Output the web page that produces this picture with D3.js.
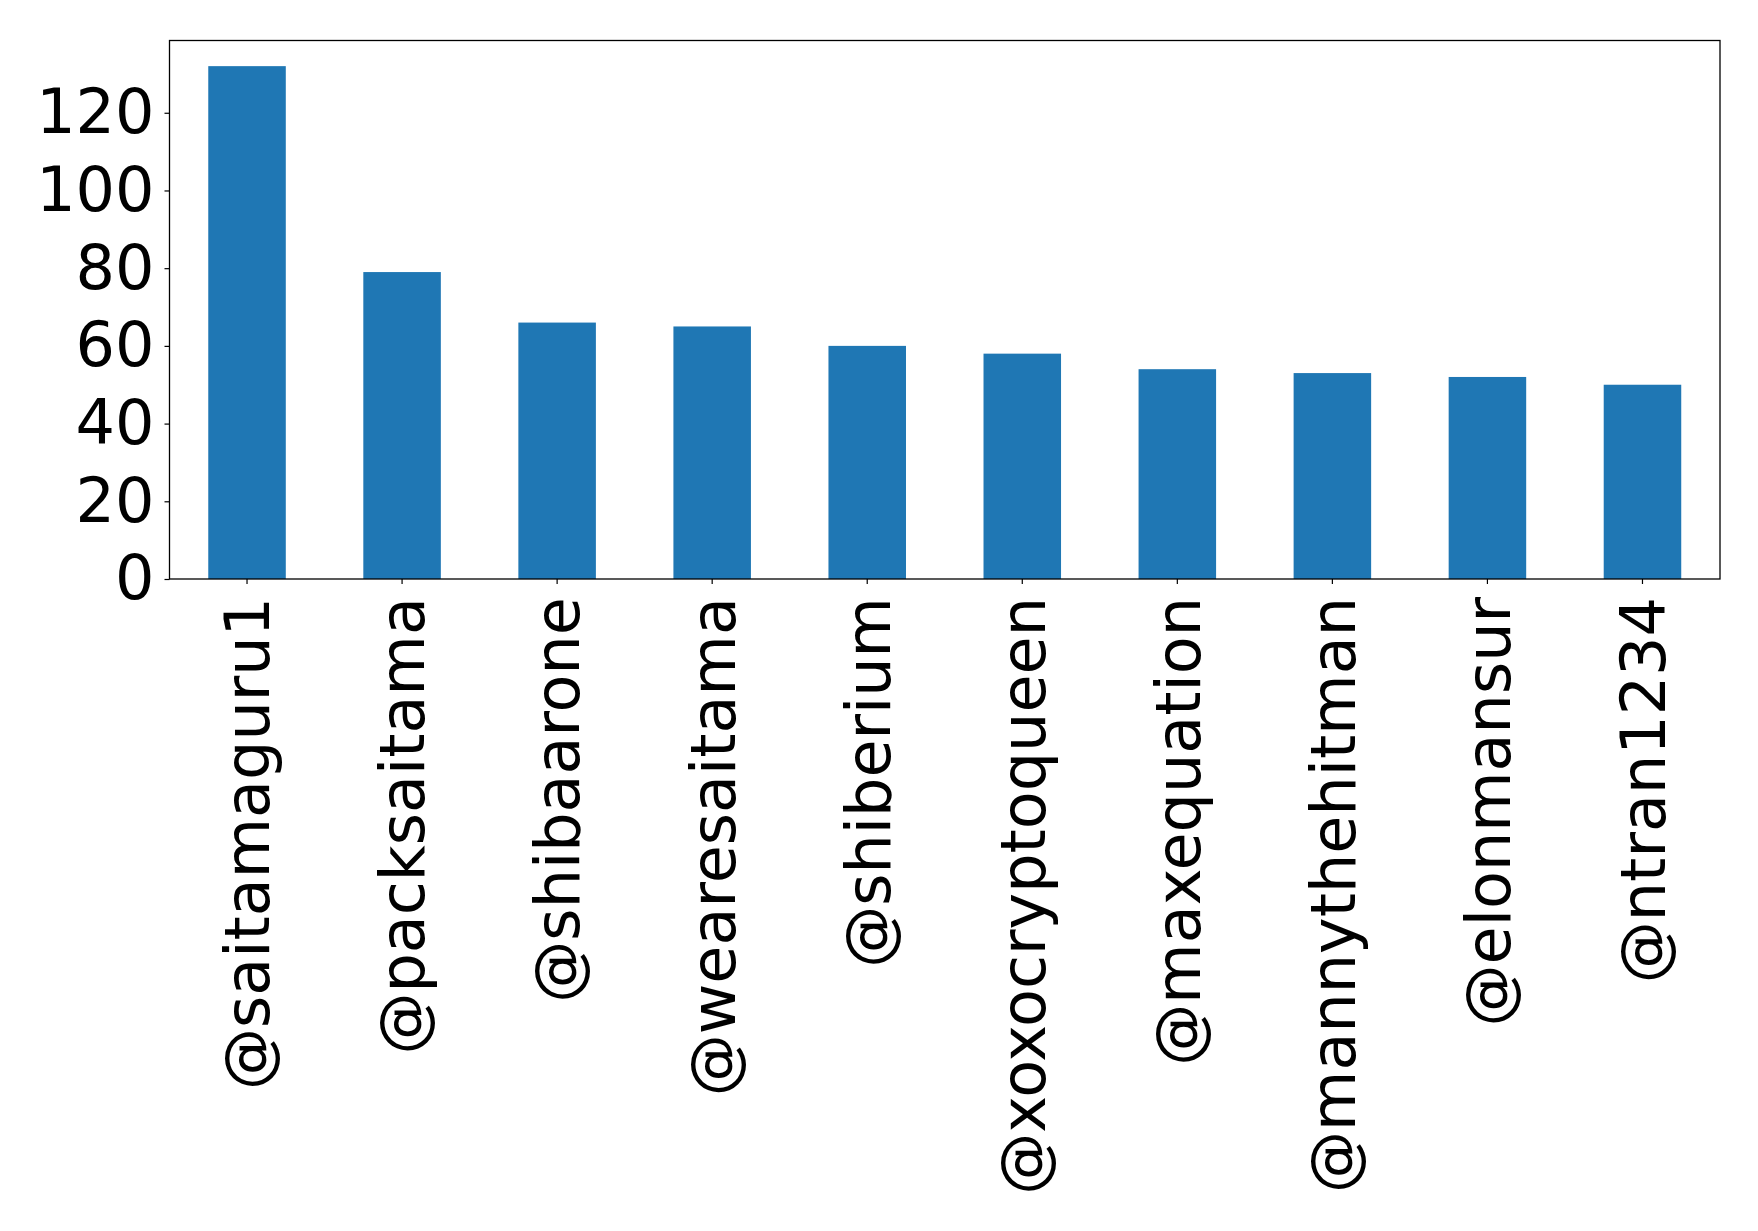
<!DOCTYPE html>
<html>
<head>
<meta charset="utf-8">
<script src="https://cdn.jsdelivr.net/npm/d3@7"></script>
<style>
  body { margin: 0; background: #fff; }
  text { font-family: "DejaVu Sans", sans-serif; }
</style>
</head>
<body>
<div id="chart"></div>
<script>
// counts per account
const accounts = ['@saitamaguru1', '@packsaitama', '@shibaarone', '@wearesaitama', '@shiberium',
    '@xoxocryptoqueen', '@maxequation', '@mannythehitman', '@elonmansur', '@ntran1234'];
const counts = [132, 79, 66, 65, 60, 58, 54, 53, 52, 50];
const yTicks = [0, 20, 40, 60, 80, 100, 120];

const width = 1758;
const height = 1231;
const margin = { top: 40.5, right: 38, bottom: 652, left: 169.5 };
const fontSize = 62;

const svg = d3.select('#chart')
    .append('svg')
    .attr('width', width)
    .attr('height', height);

const x = d3.scaleBand()
    .domain(accounts)
    .range([margin.left, width - margin.right])
    .paddingInner(0.5)
    .paddingOuter(0.25);

const y = d3.scaleLinear()
    .domain([0, d3.max(counts) * 1.05])
    .range([height - margin.bottom, margin.top]);

svg.append('g')
    .attr('fill', '#1f77b4')
    .selectAll('rect')
    .data(accounts)
    .join('rect')
    .attr('x', d => x(d))
    .attr('y', (d, i) => y(counts[i]))
    .attr('width', x.bandwidth())
    .attr('height', (d, i) => y(0) - y(counts[i]));

const yAxis = g => {
    g.attr('transform', `translate(${margin.left},0)`)
        .call(d3.axisLeft(y).tickValues(yTicks).tickSize(5).tickPadding(10).tickSizeOuter(0))
        .call(g => g.select('.domain').remove())
        .selectAll('text')
        .attr('font-size', fontSize)
        .attr('font-family', '"DejaVu Sans", sans-serif')
        .attr('fill', '#000');
    g.selectAll('line').attr('stroke', '#000').attr('stroke-width', 1.2);
};

const xAxis = g => {
    g.attr('transform', `translate(0,${height - margin.bottom})`)
        .call(d3.axisBottom(x).tickSize(5).tickSizeOuter(0))
        .call(g => g.select('.domain').remove())
        .selectAll('text')
        .attr('font-size', fontSize)
        .attr('font-family', '"DejaVu Sans", sans-serif')
        .attr('fill', '#000')
        .attr('transform', 'rotate(-90)')
        .attr('text-anchor', 'end')
        .attr('x', -18)
        .attr('y', 0)
        .attr('dy', '0.36em');
    g.selectAll('line').attr('stroke', '#000').attr('stroke-width', 1.2);
};

svg.append('g').call(xAxis);
svg.append('g').call(yAxis);

// frame around the plot area
svg.append('rect')
    .attr('x', margin.left)
    .attr('y', margin.top)
    .attr('width', width - margin.left - margin.right)
    .attr('height', height - margin.top - margin.bottom)
    .attr('fill', 'none')
    .attr('stroke', '#000')
    .attr('stroke-width', 1.3);
</script>
</body>
</html>
